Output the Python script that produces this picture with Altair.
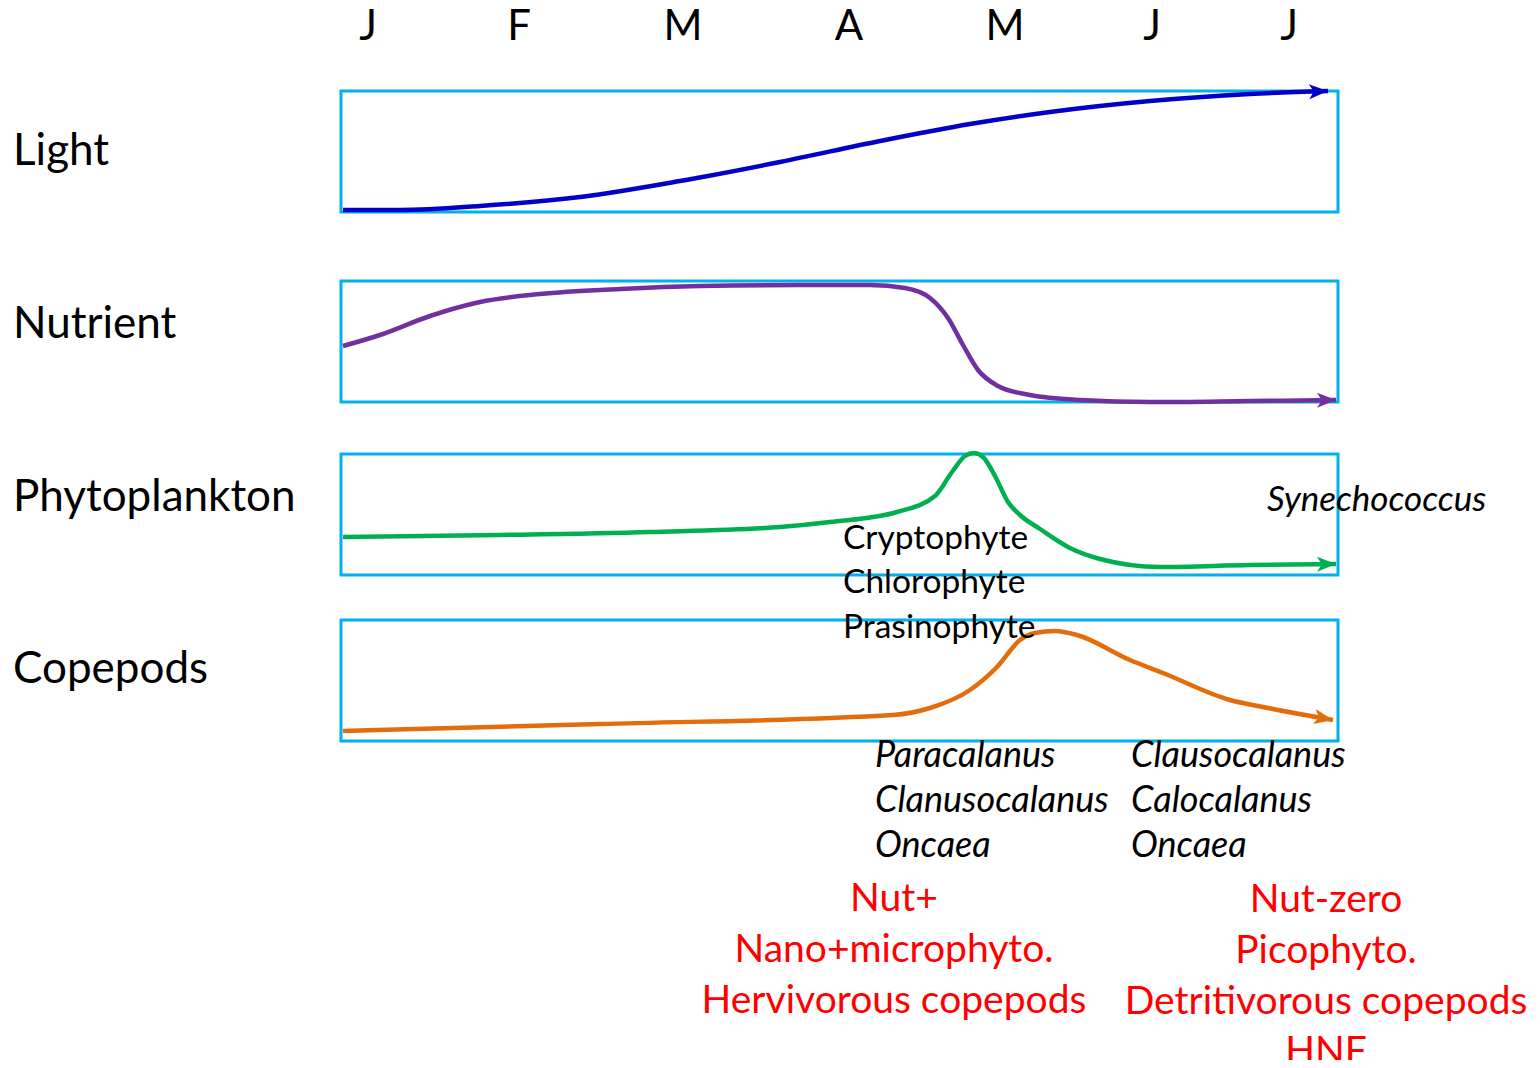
import altair as alt
import pandas as pd
import numpy as np

FONT = "Lato"

# ---- data ----
months = ["J", "F", "M", "A", "M", "J", "J"]
month_x = [368, 519, 683, 849, 1005, 1152, 1289]
month_y = [40, 40, 40, 40, 40, 40, 40]

row_labels = ["Light", "Nutrient", "Phytoplankton", "Copepods"]
row_label_x = [13, 13, 13, 13]
row_label_y = [152, 325, 498, 670]

box_left = [341, 341, 341, 341]
box_right = [1338, 1338, 1338, 1338]
box_top = [91, 281, 454, 620]
box_bottom = [212, 402, 575, 741]

light_x = [343, 400, 480, 580, 680, 780, 880, 970, 1050, 1150, 1250, 1328]
light_y = [210, 210, 206, 197, 181, 162, 141, 124, 112, 101, 94, 91]

nutrient_x = [343, 380, 430, 480, 540, 620, 700, 800, 870, 905, 930, 948, 963, 978, 998, 1030, 1080, 1150, 1250, 1336]
nutrient_y = [346, 335, 316, 302, 294, 289, 286, 285, 285, 288, 298, 318, 345, 370, 386, 395, 400, 402, 401, 400]

phyto_x = [343, 500, 650, 780, 830, 897, 935, 952, 965, 974, 983, 995, 1008, 1020, 1040, 1070, 1100, 1160, 1250, 1336]
phyto_y = [537, 535, 532, 527, 522, 512, 496, 472, 456, 453, 457, 476, 502, 515, 529, 548, 559, 567, 565, 564]

cope_x = [343, 600, 893, 930, 970, 997, 1020, 1035, 1055, 1077, 1130, 1163, 1230, 1263, 1333]
cope_y = [731, 724, 715, 708, 690, 667, 640, 633, 631, 635, 660, 673, 700, 707, 720]

series_names = ["Light", "Nutrient", "Phytoplankton", "Copepods"]
series_colors = ["#0000C8", "#7030A0", "#00B050", "#E46C0A"]

phyto_groups = ["Cryptophyte", "Chlorophyte", "Prasinophyte"]
phyto_groups_x = [843, 843, 843]
phyto_groups_y = [539, 583, 628]

pico_label = ["Synechococcus"]
pico_label_x = [1267]
pico_label_y = [500]

cope_genus = ["Paracalanus", "Clanusocalanus", "Oncaea", "Clausocalanus", "Calocalanus", "Oncaea"]
cope_genus_x = [875, 875, 875, 1131, 1131, 1131]
cope_genus_y = [756, 801, 846, 756, 801, 846]

red_text = ["Nut+", "Nano+microphyto.", "Hervivorous copepods",
            "Nut-zero", "Picophyto.", "Detritivorous copepods", "HNF"]
red_x = [894, 894, 894, 1326, 1326, 1326, 1326]
red_y = [899, 950, 1001, 900, 951, 1002, 1052]

# ---- tables ----
frames = []
heads = []
for name, xs, ys in zip(series_names,
                        [light_x, nutrient_x, phyto_x, cope_x],
                        [light_y, nutrient_y, phyto_y, cope_y]):
    frames.append(pd.DataFrame({"series": name, "x": xs, "y": ys, "order": range(len(xs))}))
    ang = np.degrees(np.arctan2(ys[-1] - ys[-2], xs[-1] - xs[-2])) % 360
    heads.append({"series": name, "x": xs[-1], "y": ys[-1], "angle": float(ang)})
lines_df = pd.concat(frames, ignore_index=True)
heads_df = pd.DataFrame(heads)

boxes_df = pd.DataFrame({"x": box_left, "x2": box_right, "y": box_top, "y2": box_bottom})
months_df = pd.DataFrame({"x": month_x, "y": month_y, "t": months})
rows_df = pd.DataFrame({"x": row_label_x, "y": row_label_y, "t": row_labels})
phyto_df = pd.DataFrame({"x": phyto_groups_x, "y": phyto_groups_y, "t": phyto_groups})
pico_df = pd.DataFrame({"x": pico_label_x, "y": pico_label_y, "t": pico_label})
genus_df = pd.DataFrame({"x": cope_genus_x, "y": cope_genus_y, "t": cope_genus})
red_df = pd.DataFrame({"x": red_x, "y": red_y, "t": red_text})

X = alt.X("x:Q", scale=alt.Scale(domain=[8, 1532], nice=False, zero=False), axis=None)
Y = alt.Y("y:Q", scale=alt.Scale(domain=[8, 1060], nice=False, zero=False, reverse=True), axis=None)
color = alt.Color("series:N", scale=alt.Scale(domain=series_names, range=series_colors), legend=None)

boxes = alt.Chart(boxes_df).mark_rect(fill=None, stroke="#00B0F0", strokeWidth=3).encode(
    x=X, x2="x2:Q", y=Y, y2="y2:Q")

lines = alt.Chart(lines_df).mark_line(strokeWidth=4.5, interpolate="monotone").encode(
    x=X, y=Y, color=color, detail="series:N", order="order:Q")

arrow_path = "M0,0 L-2,-0.8 L-1.5,0 L-2,0.8 Z"
heads_layer = alt.Chart(heads_df).mark_point(shape=arrow_path, filled=True, size=360, opacity=1,
                                             strokeWidth=0).encode(
    x=X, y=Y, color=color, angle=alt.Angle("angle:Q", scale=None))

def txt(df, size, align="left", color="black", style="normal", baseline="middle"):
    return alt.Chart(df).mark_text(font=FONT, fontSize=size, align=align, baseline=baseline,
                                   color=color, fontStyle=style).encode(x=X, y=Y, text="t:N")

layers = [
    boxes, lines, heads_layer,
    txt(months_df, 42, "center", baseline="alphabetic"),
    txt(rows_df, 44),
    txt(phyto_df, 33.5),
    txt(pico_df, 35, style="italic"),
    txt(genus_df, 36, style="italic"),
    txt(red_df, 39, "center", color="#FF0000"),
]

chart = alt.layer(*layers).properties(
    width=1524, height=1052,
    autosize=alt.AutoSizeParams(type="none"),
    padding=0,
).configure_view(stroke=None)

chart.save("out.html", embed_options={"renderer": "svg", "actions": False})
